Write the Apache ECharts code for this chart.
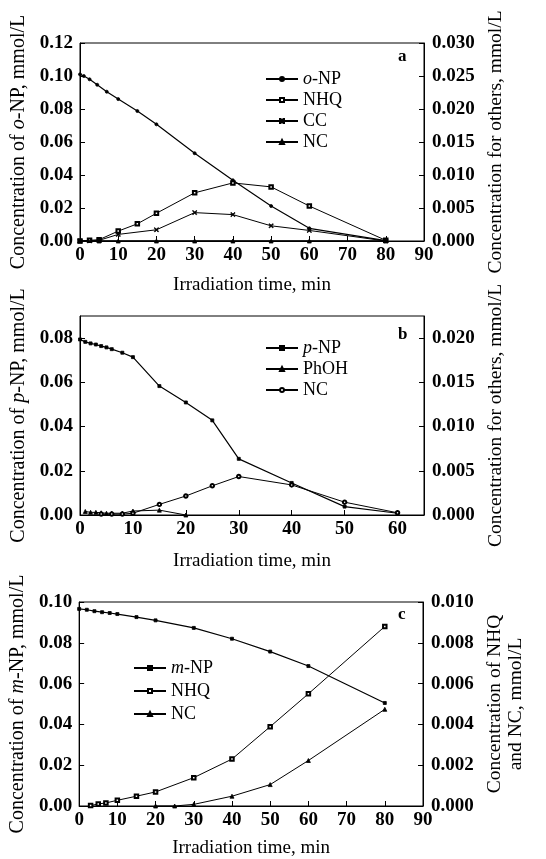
<!DOCTYPE html>
<html>
<head>
<meta charset="utf-8">
<script src="https://cdn.jsdelivr.net/npm/echarts@6/dist/echarts.min.js"></script>
<style>
html,body{margin:0;padding:0;background:#fff;}
#chart{width:546px;height:859px;}
</style>
</head>
<body>
<div id="chart"></div>
<script>
// ---------- Panel a ----------
const timeA_oNP = [0, 1, 2.5, 4.5, 7, 10, 15, 20, 30, 40, 50, 60, 80];
const valA_oNP  = [0.101, 0.100, 0.098, 0.0947, 0.0905, 0.086, 0.0788, 0.0707, 0.0532, 0.0368, 0.0212, 0.0077, 0.0002];
const timeA_NHQ = [0, 2.5, 5, 10, 15, 20, 30, 40, 50, 60, 80];
const valA_NHQ  = [0, 0.0001, 0.0002, 0.0015, 0.0026, 0.0042, 0.0073, 0.0088, 0.0082, 0.0053, 0.0001];
const timeA_CC  = [0, 2.5, 5, 10, 20, 30, 40, 50, 60, 80];
const valA_CC   = [0, 0, 0.0001, 0.0010, 0.0017, 0.0043, 0.0040, 0.0023, 0.0016, 0];
const timeA_NC  = [0, 5, 10, 20, 30, 40, 50, 60, 80];
const valA_NC   = [0, 0, 0, 0, 0, 0, 0, 0, 0];
// ---------- Panel b ----------
const timeB_pNP  = [0, 1, 2, 3, 4, 5, 6, 8, 10, 15, 20, 25, 30, 40, 50, 60];
const valB_pNP   = [0.0794, 0.0783, 0.0776, 0.0771, 0.0764, 0.0758, 0.0750, 0.0734, 0.0714, 0.0583, 0.0509, 0.0428, 0.0254, 0.0145, 0.0038, 0.0008];
const timeB_PhOH = [1, 2, 3, 4, 5, 6, 8, 10, 15, 20];
const valB_PhOH  = [0.0004, 0.0003, 0.0003, 0.00025, 0.0002, 0.0002, 0.0002, 0.00045, 0.00055, 0];
const timeB_NC   = [4, 6, 8, 10, 15, 20, 25, 30, 40, 50, 60];
const valB_NC    = [0.0001, 0.0001, 0.0001, 0.0002, 0.0012, 0.00215, 0.0033, 0.00435, 0.0034, 0.00145, 0.00025];
// ---------- Panel c ----------
const timeC_mNP = [0, 2, 4, 6, 8, 10, 15, 20, 30, 40, 50, 60, 80];
const valC_mNP  = [0.0966, 0.0962, 0.0955, 0.095, 0.0946, 0.0941, 0.0926, 0.091, 0.0873, 0.082, 0.0757, 0.0686, 0.0505];
const timeC_NHQ = [3, 5, 7, 10, 15, 20, 30, 40, 50, 60, 80];
const valC_NHQ  = [0.00002, 0.0001, 0.00015, 0.00028, 0.00048, 0.00069, 0.00139, 0.0023, 0.00389, 0.0055, 0.0088];
const timeC_NC  = [20, 25, 30, 40, 50, 60, 80];
const valC_NC   = [0, 0, 0.00008, 0.00048, 0.00105, 0.00223, 0.00474];

// axis settings
const xMax = [90, 65, 90];
const xInterval = 10;
const leftMax = [0.12, 0.09, 0.10];
const leftInterval = 0.02;
const rightMax = [0.030, 0.0225, 0.010];
const rightInterval = [0.005, 0.005, 0.002];
const xTitle = 'Irradiation time, min';
const leftTitles = ['Concentration of {i|o}-NP, mmol/L', 'Concentration of {i|p}-NP, mmol/L', 'Concentration of {i|m}-NP, mmol/L'];
const rightTitles = ['Concentration for others, mmol/L', 'Concentration for others, mmol/L', 'Concentration of NHQ\nand NC, mmol/L'];
const panelLetters = ['a', 'b', 'c'];

const legendLabels = {
  'a_oNP': '{i|o}-NP', 'a_NHQ': 'NHQ', 'a_CC': 'CC', 'a_NC': 'NC',
  'b_pNP': '{i|p}-NP', 'b_PhOH': 'PhOH', 'b_NC': 'NC',
  'c_mNP': '{i|m}-NP', 'c_NHQ': 'NHQ', 'c_NC': 'NC'
};

const FONT = '"Liberation Serif", "Times New Roman", serif';
const pair = (t, v) => t.map((x, i) => [x, v[i]]);

const grids = [
  {left: 80, top: 43, width: 344, height: 198},
  {left: 80, top: 316, width: 344, height: 199},
  {left: 79, top: 602, width: 344, height: 206}
].map(g => Object.assign(g, {show: true, borderColor: '#000', borderWidth: 1, backgroundColor: 'transparent', containLabel: false}));

const xNameGap = [35, 37, 33];
const xAxes = grids.map((g, i) => ({
  type: 'value', gridIndex: i, min: 0, max: xMax[i], interval: xInterval,
  axisLine: {lineStyle: {color: '#000', width: 1}},
  axisTick: {inside: true, length: 5, lineStyle: {color: '#000'}},
  splitLine: {show: false},
  axisLabel: {color: '#000', fontFamily: FONT, fontSize: 19, fontWeight: 'bold', margin: 5, showMaxLabel: i !== 1},
  name: xTitle, nameLocation: 'middle', nameGap: xNameGap[i],
  nameTextStyle: {color: '#000', fontFamily: FONT, fontSize: 19}
}));

const yAxes = [];
grids.forEach((g, i) => {
  yAxes.push({
    type: 'value', gridIndex: i, position: 'left', min: 0, max: leftMax[i], interval: leftInterval,
    axisLine: {show: true, lineStyle: {color: '#000', width: 1}},
    axisTick: {show: true, inside: true, length: 5, lineStyle: {color: '#000'}},
    splitLine: {show: false},
    axisLabel: {color: '#000', fontFamily: FONT, fontSize: 19, fontWeight: 'bold', margin: 7,
      showMaxLabel: i !== 1, formatter: v => v.toFixed(2)},
    name: leftTitles[i], nameLocation: 'middle', nameRotate: 90, nameGap: 50,
    nameTextStyle: {color: '#000', fontFamily: FONT, fontSize: 20,
      rich: {i: {fontStyle: 'italic', fontFamily: FONT, fontSize: 20, color: '#000'}}}
  });
  yAxes.push({
    type: 'value', gridIndex: i, position: 'right', min: 0, max: rightMax[i], interval: rightInterval[i],
    axisLine: {show: true, lineStyle: {color: '#000', width: 1}},
    axisTick: {show: true, inside: true, length: 5, lineStyle: {color: '#000'}},
    splitLine: {show: false},
    axisLabel: {color: '#000', fontFamily: FONT, fontSize: 19, fontWeight: 'bold', margin: 8,
      showMaxLabel: i !== 1, formatter: v => v.toFixed(3)},
    name: rightTitles[i], nameLocation: 'middle', nameRotate: 90, nameGap: i === 2 ? 57 : 59,
    nameTextStyle: {color: '#000', fontFamily: FONT, fontSize: 19.5, lineHeight: 21}
  });
});

const crossPath = 'path://M0,0L1.5,0L5,3.5L8.5,0L10,0L10,1.5L6.5,5L10,8.5L10,10L8.5,10L5,6.5L1.5,10L0,10L0,8.5L3.5,5L0,1.5Z';

function mk(name, grid, yRight, data, symbol, size, lw, color) {
  return {
    name, type: 'line', xAxisIndex: grid, yAxisIndex: grid * 2 + (yRight ? 1 : 0),
    data, symbol, symbolSize: size, showAllSymbol: true,
    lineStyle: {color: color || '#000', width: lw},
    itemStyle: {color: color || '#000', borderColor: color || '#000', borderWidth: 0.8},
    emphasis: {disabled: true}, animation: false
  };
}

const series = [
  mk('a_oNP', 0, false, pair(timeA_oNP, valA_oNP), 'circle', 3, 1.2),
  mk('a_NHQ', 0, true, pair(timeA_NHQ, valA_NHQ), 'emptyRect', 3.5, 1),
  mk('a_CC', 0, true, pair(timeA_CC, valA_CC), crossPath, 4, 1),
  mk('a_NC', 0, true, pair(timeA_NC, valA_NC), 'triangle', 4, 1.6),
  mk('b_pNP', 1, false, pair(timeB_pNP, valB_pNP), 'rect', 3, 1.2),
  mk('b_PhOH', 1, true, pair(timeB_PhOH, valB_PhOH), 'triangle', 4, 1),
  mk('b_NC', 1, true, pair(timeB_NC, valB_NC), 'emptyCircle', 3.5, 1),
  mk('c_mNP', 2, false, pair(timeC_mNP, valC_mNP), 'rect', 3, 1.2),
  mk('c_NHQ', 2, true, pair(timeC_NHQ, valC_NHQ), 'emptyRect', 3.5, 1),
  mk('c_NC', 2, true, pair(timeC_NC, valC_NC), 'triangle', 4, 1)
];

const legendText = {color: '#000', fontFamily: FONT, fontSize: 18, lineHeight: 18,
  rich: {i: {fontStyle: 'italic', fontFamily: FONT, fontSize: 18, color: '#000'}}};
function lg(names, left, top, gap) {
  return {data: names, left, top, orient: 'vertical', itemWidth: 32, itemHeight: 5, itemGap: gap,
    textStyle: legendText, formatter: n => legendLabels[n], selectedMode: false, padding: 0};
}
const legends = [
  lg(['a_oNP', 'a_NHQ', 'a_CC', 'a_NC'], 265, 70, 3),
  lg(['b_pNP', 'b_PhOH', 'b_NC'], 265, 339, 3),
  lg(['c_mNP', 'c_NHQ', 'c_NC'], 133, 659, 5)
];

const letterPos = [[403, 57], [403, 335], [403, 615]];
const graphics = panelLetters.map((t, i) => ({
  type: 'text', left: letterPos[i][0] - 5, top: letterPos[i][1] - 9,
  style: {text: t, fill: '#000', font: 'bold 17px ' + FONT}
}));

const chart = echarts.init(document.getElementById('chart'), null, {renderer: 'canvas'});
chart.setOption({
  animation: false,
  backgroundColor: '#fff',
  grid: grids, xAxis: xAxes, yAxis: yAxes, series, legend: legends, graphic: graphics
});
</script>
</body>
</html>
